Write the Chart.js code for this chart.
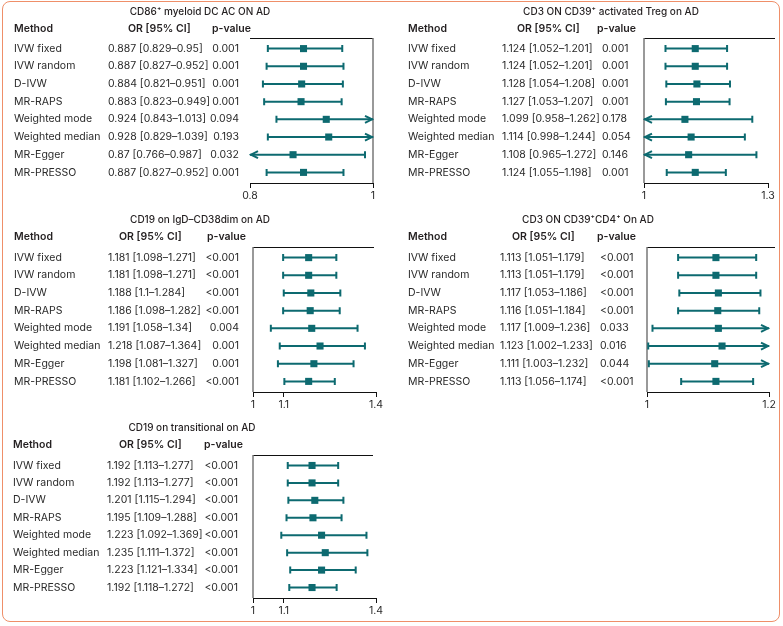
<!DOCTYPE html>
<html>
<head>
<meta charset="utf-8">
<script src="https://cdn.jsdelivr.net/npm/chart.js@4.4.1/dist/chart.umd.min.js"></script>
<style>
body{margin:0;background:#fff;}
#wrap{position:relative;width:783px;height:626px;overflow:hidden;}
#frame{position:absolute;left:2px;top:1px;width:776px;height:619px;border:1.5px solid #ef8f69;border-radius:8px;}
canvas{position:absolute;left:0;top:0;}
</style>
</head>
<body>
<div id="wrap">
<div id="frame"></div>
<canvas id="c0" width="783" height="626"></canvas>
<canvas id="c1" width="783" height="626"></canvas>
<canvas id="c2" width="783" height="626"></canvas>
<canvas id="c3" width="783" height="626"></canvas>
<canvas id="c4" width="783" height="626"></canvas>
</div>
<script>

const methods=["IVW fixed","IVW random","D-IVW","MR-RAPS","Weighted mode","Weighted median","MR-Egger","MR-PRESSO"];

const titles=[
"CD86⁺ myeloid DC AC ON AD",
"CD3 ON CD39⁺ activated Treg on AD",
"CD19 on IgD–CD38dim on AD",
"CD3 ON CD39⁺CD4⁺ On AD",
"CD19 on transitional on AD"
];

// CD86+ myeloid DC
const or1=[0.887,0.887,0.884,0.883,0.924,0.928,0.87,0.887];
const lo1=[0.829,0.827,0.821,0.823,0.843,0.829,0.766,0.827];
const hi1=[0.95,0.952,0.951,0.949,1.013,1.039,0.987,0.952];
const p1=["0.001","0.001","0.001","0.001","0.094","0.193","0.032","0.001"];
const ticks1=[0.8,1];

// CD3 on CD39+ activated Treg
const or2=[1.124,1.124,1.128,1.127,1.099,1.114,1.108,1.124];
const lo2=[1.052,1.052,1.054,1.053,0.958,0.998,0.965,1.055];
const hi2=[1.201,1.201,1.208,1.207,1.262,1.244,1.272,1.198];
const p2=["0.001","0.001","0.001","0.001","0.178","0.054","0.146","0.001"];
const ticks2=[1,1.3];

// CD19 on IgD- CD38dim
const or3=[1.181,1.181,1.188,1.186,1.191,1.218,1.198,1.181];
const lo3=[1.098,1.098,1.1,1.098,1.058,1.087,1.081,1.102];
const hi3=[1.271,1.271,1.284,1.282,1.34,1.364,1.327,1.266];
const p3=["<0.001","<0.001","<0.001","<0.001","0.004","0.001","0.001","<0.001"];
const ticks3=[1,1.1,1.4];

// CD3 on CD39+CD4+
const or4=[1.113,1.113,1.117,1.116,1.117,1.123,1.111,1.113];
const lo4=[1.051,1.051,1.053,1.051,1.009,1.002,1.003,1.056];
const hi4=[1.179,1.179,1.186,1.184,1.236,1.233,1.232,1.174];
const p4=["<0.001","<0.001","<0.001","<0.001","0.033","0.016","0.044","<0.001"];
const ticks4=[1,1.2];

// CD19 on transitional
const or5=[1.192,1.192,1.201,1.195,1.223,1.235,1.223,1.192];
const lo5=[1.113,1.113,1.115,1.109,1.092,1.111,1.121,1.118];
const hi5=[1.277,1.277,1.294,1.288,1.369,1.372,1.334,1.272];
const p5=["<0.001","<0.001","<0.001","<0.001","<0.001","<0.001","<0.001","<0.001"];
const ticks5=[1,1.1,1.4];


const panels=[
{or:or1,lo:lo1,hi:hi1,p:p1,ticks:ticks1},
{or:or2,lo:lo2,hi:hi2,p:p2,ticks:ticks2},
{or:or3,lo:lo3,hi:hi3,p:p3,ticks:ticks3},
{or:or4,lo:lo4,hi:hi4,p:p4,ticks:ticks4},
{or:or5,lo:lo5,hi:hi5,p:p5,ticks:ticks5}
];

// where each panel sits on the page
const layout=[
{left:250,right:373,top:38,bottom:183,titleX:200,titleY:12,headY:29,methodX:14,orX:108,pX:239,pAlign:"right",orHeadX:128,pHeadX:212,lineEnd:373},
{left:644,right:768,top:38,bottom:183,titleX:611,titleY:12,headY:29,methodX:408,orX:502,pX:602,pAlign:"left",orHeadX:517,pHeadX:597,lineEnd:775},
{left:253,right:376,top:247,bottom:392,titleX:200,titleY:220,headY:237,methodX:14,orX:108,pX:239,pAlign:"right",orHeadX:119,pHeadX:207,lineEnd:374},
{left:647,right:769,top:247,bottom:392,titleX:588,titleY:220,headY:237,methodX:408,orX:500,pX:600,pAlign:"left",orHeadX:512,pHeadX:597,lineEnd:775},
{left:253,right:376,top:455,bottom:598,titleX:192,titleY:428,headY:445,methodX:13,orX:107,pX:238,pAlign:"right",orHeadX:119,pHeadX:204,lineEnd:373}
];

const teal="#0d6a70";
const fontFam="Inter, Lato, 'DejaVu Sans', sans-serif";
const axisH=22;


function makeForest(k){

let d=panels[k];
let L=layout[k];

return {
id:"forest"+k,
beforeDatasetsDraw(chart){

let ctx=chart.ctx;
let xs=chart.scales.x;
let ys=chart.scales.y;
let a=chart.chartArea;

ctx.save();
ctx.textBaseline="middle";
ctx.fillStyle="#231f20";

ctx.font="500 10px "+fontFam;
ctx.textAlign="center";
ctx.fillText(titles[k],L.titleX,L.titleY);

ctx.font="600 10.5px "+fontFam;
ctx.textAlign="left";
ctx.fillText("Method",L.methodX,L.headY);
ctx.fillText("OR [95% CI]",L.orHeadX,L.headY);
ctx.fillText("p-value",L.pHeadX,L.headY);

ctx.strokeStyle="#111";
ctx.lineWidth=1;
ctx.beginPath();
ctx.moveTo(a.left,Math.round(a.top)+0.5);
ctx.lineTo(L.lineEnd,Math.round(a.top)+0.5);
ctx.stroke();

let x1=xs.getPixelForValue(1);
ctx.strokeStyle="#777";
ctx.lineWidth=1.5;
ctx.beginPath();
ctx.moveTo(x1,a.top);
ctx.lineTo(x1,a.bottom);
ctx.stroke();

ctx.font="10.5px "+fontFam;

for(let i=0;i<methods.length;i++){

let y=ys.getPixelForValue(i);

ctx.fillStyle="#2a2a2a";
ctx.textAlign="left";
ctx.fillText(methods[i],L.methodX,y);
ctx.fillText(d.or[i]+" ["+d.lo[i]+"–"+d.hi[i]+"]",L.orX,y);
ctx.textAlign=L.pAlign;
ctx.fillText(d.p[i],L.pX,y);

let xl=Math.max(xs.getPixelForValue(d.lo[i]),a.left);
let xr=Math.min(xs.getPixelForValue(d.hi[i]),a.right);

ctx.strokeStyle=teal;
ctx.lineWidth=2;
ctx.beginPath();
ctx.moveTo(xl,y);
ctx.lineTo(xr,y);
ctx.stroke();

ctx.beginPath();
if(d.lo[i]<xs.min){
ctx.moveTo(xl+8,y-3.5);
ctx.lineTo(xl+1,y);
ctx.lineTo(xl+8,y+3.5);
}else{
ctx.moveTo(xl,y-3.5);
ctx.lineTo(xl,y+3.5);
}
if(d.hi[i]>xs.max){
ctx.moveTo(xr-8,y-3.5);
ctx.lineTo(xr-1,y);
ctx.lineTo(xr-8,y+3.5);
}else{
ctx.moveTo(xr,y-3.5);
ctx.lineTo(xr,y+3.5);
}
ctx.stroke();

}

ctx.restore();

}
};

}


for(let k=0;k<5;k++){

let d=panels[k];
let L=layout[k];

new Chart(document.getElementById("c"+k),{

type:"scatter",

data:{
datasets:[{
data:d.or.map((v,i)=>({x:v,y:i})),
pointStyle:"rect",
pointRadius:5,
pointHoverRadius:5,
backgroundColor:teal,
borderWidth:0
}]
},

options:{
responsive:false,
animation:false,
events:[],
layout:{
padding:{left:L.left,right:783-L.right,top:L.top,bottom:626-L.bottom-axisH}
},
plugins:{
legend:{display:false},
tooltip:{enabled:false}
},
scales:{
x:{
type:"linear",
min:d.ticks[0],
max:d.ticks[d.ticks.length-1],
afterBuildTicks:s=>{s.ticks=d.ticks.map(v=>({value:v}));},
afterFit:s=>{s.height=axisH;},
grid:{display:true,drawOnChartArea:false,drawTicks:true,tickLength:5,color:"#111",lineWidth:1},
border:{display:true,color:"#111",width:1},
ticks:{color:"#2a2a2a",font:{family:fontFam,size:10.5},padding:2,maxRotation:0,autoSkip:false,callback:v=>String(v)}
},
y:{
type:"linear",
min:-0.6,
max:7.6,
reverse:true,
display:false
}
}
},

plugins:[makeForest(k)]

});

}

</script>
</body>
</html>
